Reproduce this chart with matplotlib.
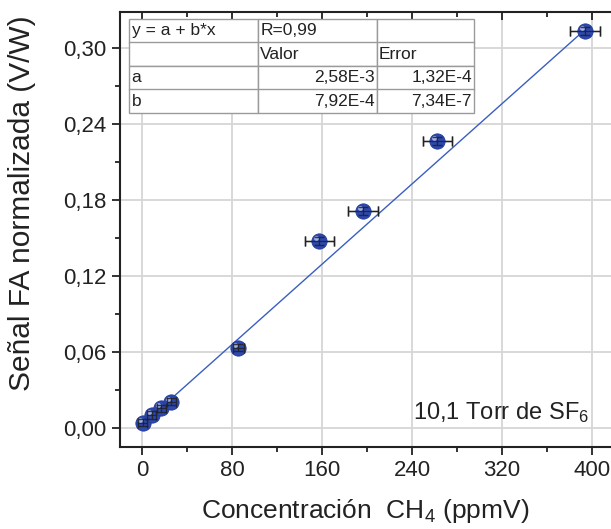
import matplotlib
matplotlib.use("Agg")
import matplotlib.pyplot as plt
import matplotlib.transforms as mtransforms
import numpy as np

plt.rcParams['font.family'] = ['Liberation Sans', 'DejaVu Sans']
plt.rcParams['mathtext.fontset'] = 'custom'
plt.rcParams['mathtext.rm'] = 'Liberation Sans'
plt.rcParams['mathtext.default'] = 'regular'

# ---- data ----
conc = [0.6, 8.6, 16.9, 25.8, 85.6, 157.6, 196.7, 262.5, 393.8]
signal = [0.0042, 0.0103, 0.0155, 0.0208, 0.0634, 0.1476, 0.1713, 0.2266, 0.3134]
conc_err = [4, 4, 4, 4, 5, 13, 13.5, 13, 13]
signal_err = [0.003, 0.003, 0.003, 0.003, 0.003, 0.003, 0.003, 0.003, 0.003]
fit_a = 2.58e-3
fit_b = 7.92e-4
xticks = [0, 80, 160, 240, 320, 400]
yticks = [0.00, 0.06, 0.12, 0.18, 0.24, 0.30]
ytick_labels = ["0,00", "0,06", "0,12", "0,18", "0,24", "0,30"]
table_rows = [["y = a + b*x", "R=0,99", ""],
              ["", "Valor", "Error"],
              ["a", "2,58E-3", "1,32E-4"],
              ["b", "7,92E-4", "7,34E-7"]]

W, H = 611, 529
fig = plt.figure(figsize=(W / 100, H / 100), dpi=100)
ax = fig.add_axes([120 / W, (H - 447) / H, (W - 120) / W, 435 / H])

ax.set_xlim(-19.6, 416.9)
ax.set_ylim(-0.015, 0.3284)

ax.set_xticks(xticks)
ax.set_xticklabels([str(v) for v in xticks])
ax.set_xticks([40, 120, 200, 280, 360], minor=True)
ax.set_yticks(yticks)
ax.set_yticklabels(ytick_labels)
ax.set_yticks([0.03, 0.09, 0.15, 0.21, 0.27], minor=True)

ax.grid(True, which='major', color='#d6d6d6', linewidth=1.3, zorder=0)
ax.set_axisbelow(True)

for s in ['left', 'bottom', 'top']:
    ax.spines[s].set_linewidth(1.5)
    ax.spines[s].set_color('#222222')
ax.spines['right'].set_visible(False)

ax.tick_params(axis='both', which='major', direction='out', length=6, width=1.3,
               labelsize=16, colors='#222222', labelcolor='#222222')
ax.tick_params(axis='both', which='minor', direction='out', length=3.5, width=1.3, colors='#222222')
ax.tick_params(axis='x', which='both', top=True)
# top ticks inward
for t in ax.xaxis.get_major_ticks():
    t.tick2line.set_marker(3)  # TICKDOWN
    t.tick2line.set_markersize(6)
for t in ax.xaxis.get_minor_ticks():
    t.tick2line.set_marker(3)
    t.tick2line.set_markersize(3.5)

# fit line
xl = np.array([min(conc), max(conc)])
ax.plot(xl, fit_a + fit_b * xl, color='#3a5fc0', linewidth=1.0, zorder=2)

# error bars
ax.errorbar(conc, signal, xerr=conc_err, yerr=signal_err, fmt='none',
            ecolor='#222222', elinewidth=1.0, capsize=3.5, capthick=1.0, zorder=3)

# sphere markers
ax.plot(conc, signal, 'o', markersize=11, color='#2d48b0', markeredgecolor='#213a98',
        markeredgewidth=0.6, zorder=4)
hl = mtransforms.offset_copy(ax.transData, fig=fig, x=-2.2, y=2.2, units='points')
ax.plot(conc, signal, 'o', markersize=3.5, color='#c0cbf0', markeredgewidth=0,
        alpha=0.8, transform=hl, zorder=5)
ax.errorbar(conc, signal, xerr=conc_err, yerr=signal_err, fmt='none',
            ecolor='#222222', elinewidth=0.9, capsize=3.5, capthick=1.0, zorder=6, alpha=0.85)

ax.set_xlabel("Concentración  CH$_4$ (ppmV)", fontsize=19, color='#222222')
ax.xaxis.set_label_coords(0.5, -0.115)
ax.set_ylabel("Señal FA normalizada (V/W)", fontsize=21.5, color='#222222')
ax.yaxis.set_label_coords(-0.172, 0.561)

ax.text((413 - 120) / 491, 0.064, "10,1 Torr de SF$_6$", transform=ax.transAxes, fontsize=17,
        color='#222222', ha='left', va='baseline')

# table
colw = np.array([129, 119, 97], dtype=float)
colw = colw / colw.sum()
tab = ax.table(cellText=table_rows, colWidths=list(colw),
               bbox=[(129 - 120) / 491, (447 - 113) / 435, 345 / 491, 94 / 435],
               zorder=10)
tab.auto_set_font_size(False)
tab.set_fontsize(12.5)
for (r, c), cell in tab.get_celld().items():
    cell.set_edgecolor('#9a9a9a')
    cell.set_linewidth(1.0)
    cell.set_facecolor('white')
    txt = cell.get_text()
    txt.set_color('#222222')
    if r >= 2 and c >= 1:
        cell._loc = 'right'
        txt.set_ha('right')
    else:
        cell._loc = 'left'
        txt.set_ha('left')
    cell.PAD = 0.02

fig.savefig("out.png", dpi=100)
